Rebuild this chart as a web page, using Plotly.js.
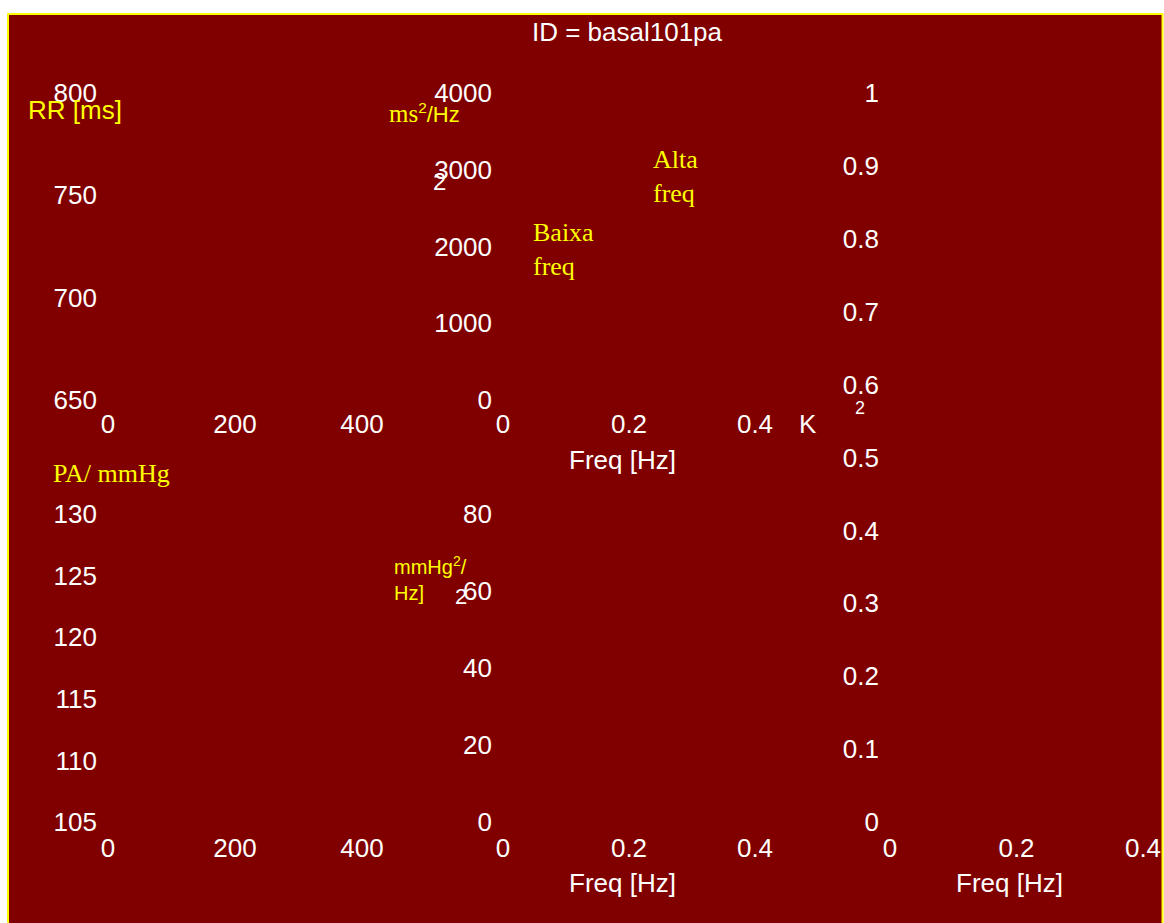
<!DOCTYPE html>
<html>
<head>
<meta charset="utf-8">
<script src="https://cdn.plot.ly/plotly-3.0.1.min.js"></script>
<style>html,body{margin:0;padding:0;background:#fff;overflow:hidden}#chart{width:1164px;height:923px}</style>
</head>
<body>
<div id="chart"></div>
<script>
// ---- data (tick values / axis ranges) ----
const chartTitle = "ID = basal101pa";
const rrRange = [650, 800];
const rrTicks = [650, 700, 750, 800];
const beatRange = [0, 550];
const beatTicks = [0, 200, 400];
const rrPsdRange = [0, 4000];
const rrPsdTicks = [0, 1000, 2000, 3000, 4000];
const freqRange = [0, 0.5];
const freqTicks = [0, 0.2, 0.4];
const cohFreqRange = [0, 0.43];
const cohRange = [0, 1];
const cohTicks = [0, 0.1, 0.2, 0.3, 0.4, 0.5, 0.6, 0.7, 0.8, 0.9, 1];
const paRange = [105, 130];
const paTicks = [105, 110, 115, 120, 125, 130];
const paPsdRange = [0, 80];
const paPsdTicks = [0, 20, 40, 60, 80];
// series (no marks are visible in the reference)
const rrSeries = [];
const rrPsd = [];
const coherence = [];
const paSeries = [];
const paPsd = [];

const W = 1164, H = 923;
const fx = px => px / W;
const fy = py => 1 - py / H;

const SANS = "Liberation Sans, Arial, sans-serif";
const SERIF = "Liberation Serif, Times New Roman, serif";
const RED = "#800000", YEL = "#ffff00", WHITE = "#ffffff";

function ax(range, ticks, dom, anchor, isY, standoff) {
  return {
    range: range, tickvals: ticks, domain: dom, anchor: anchor,
    showgrid: false, zeroline: false, showline: false, ticks: "",
    tickfont: {family: SANS, size: 26, color: WHITE},
    ticklabelstandoff: standoff,
    fixedrange: true
  };
}

const traces = [
  {type: "scatter", mode: "lines", x: [], y: rrSeries, xaxis: "x", yaxis: "y", line: {color: RED}},
  {type: "scatter", mode: "lines", x: [], y: rrPsd, xaxis: "x2", yaxis: "y2", line: {color: RED}},
  {type: "scatter", mode: "lines", x: [], y: coherence, xaxis: "x3", yaxis: "y3", line: {color: RED}},
  {type: "scatter", mode: "lines", x: [], y: paSeries, xaxis: "x4", yaxis: "y4", line: {color: RED}},
  {type: "scatter", mode: "lines", x: [], y: paPsd, xaxis: "x5", yaxis: "y5", line: {color: RED}}
];

const topDom = [fy(400), fy(93)];
const botDom = [fy(822), fy(514)];
const leftX = [fx(108), fx(108 + 550 * 0.635)];
const midX = [fx(503), fx(503 + 0.5 * 630)];
const rightX = [fx(890), fx(890 + 0.43 * 632.5)];

function ann(text, x, y, opts) {
  return Object.assign({
    text: text, xref: "paper", yref: "paper", x: fx(x), y: fy(y),
    xanchor: "center", yanchor: "middle", showarrow: false, align: "left",
    font: {family: SANS, size: 26, color: WHITE}
  }, opts || {});
}

const layout = {
  width: W, height: H,
  margin: {l: 0, r: 0, t: 0, b: 0, pad: 0},
  paper_bgcolor: "#ffffff",
  plot_bgcolor: "rgba(0,0,0,0)",
  showlegend: false,
  title: {text: chartTitle, x: fx(627), y: fy(32), xanchor: "center", yanchor: "middle",
          xref: "paper", yref: "paper", font: {family: SANS, size: 26, color: WHITE}},
  xaxis: ax(beatRange, beatTicks, leftX, "y", false, 6),
  yaxis: ax(rrRange, rrTicks, topDom, "x", true, 10),
  xaxis2: ax(freqRange, freqTicks, midX, "y2", false, 6),
  yaxis2: ax(rrPsdRange, rrPsdTicks, topDom, "x2", true, 10),
  xaxis3: ax(cohFreqRange, freqTicks, rightX, "y3", false, 8),
  yaxis3: ax(cohRange, cohTicks, [fy(822), fy(93)], "x3", true, 10),
  xaxis4: ax(beatRange, beatTicks, leftX, "y4", false, 8),
  yaxis4: ax(paRange, paTicks, botDom, "x4", true, 10),
  xaxis5: ax(freqRange, freqTicks, midX, "y5", false, 8),
  yaxis5: ax(paPsdRange, paPsdTicks, botDom, "x5", true, 10),
  shapes: [{
    type: "rect", xref: "paper", yref: "paper", layer: "below",
    x0: fx(8), x1: fx(1162.5), y0: fy(940), y1: fy(14),
    fillcolor: RED, line: {color: YEL, width: 2}
  }],
  annotations: [
    ann("RR [ms]", 26, 110, {xanchor: "left", font: {family: SANS, size: 26, color: YEL}}),
    ann("<span style='font-family:Liberation Serif;font-size:25px'>ms</span><sup>2</sup>/Hz", 387, 113,
        {xanchor: "left", font: {family: SANS, size: 22, color: YEL}}),
    ann("2", 439, 181, {font: {family: SANS, size: 24, color: WHITE}}),
    ann("Alta<br>freq", 651, 176, {xanchor: "left", font: {family: SERIF, size: 26, color: YEL}}),
    ann("Baixa<br>freq", 531, 249, {xanchor: "left", font: {family: SERIF, size: 26, color: YEL}}),
    ann("K", 808, 424),
    ann("2", 860, 408, {font: {family: SANS, size: 18, color: WHITE}}),
    ann("Freq [Hz]", 622, 460),
    ann("PA/ mmHg", 51, 473, {xanchor: "left", font: {family: SERIF, size: 26, color: YEL}}),
    ann("mmHg<sup>2</sup>/<br>Hz]", 392, 578, {xanchor: "left", font: {family: SANS, size: 20, color: YEL}}),
    ann("2", 461, 596, {font: {family: SANS, size: 22, color: WHITE}}),
    ann("Freq [Hz]", 622, 883),
    ann("Freq [Hz]", 1009, 883)
  ]
};

Plotly.newPlot("chart", traces, layout, {staticPlot: true, displayModeBar: false});
</script>
</body>
</html>
